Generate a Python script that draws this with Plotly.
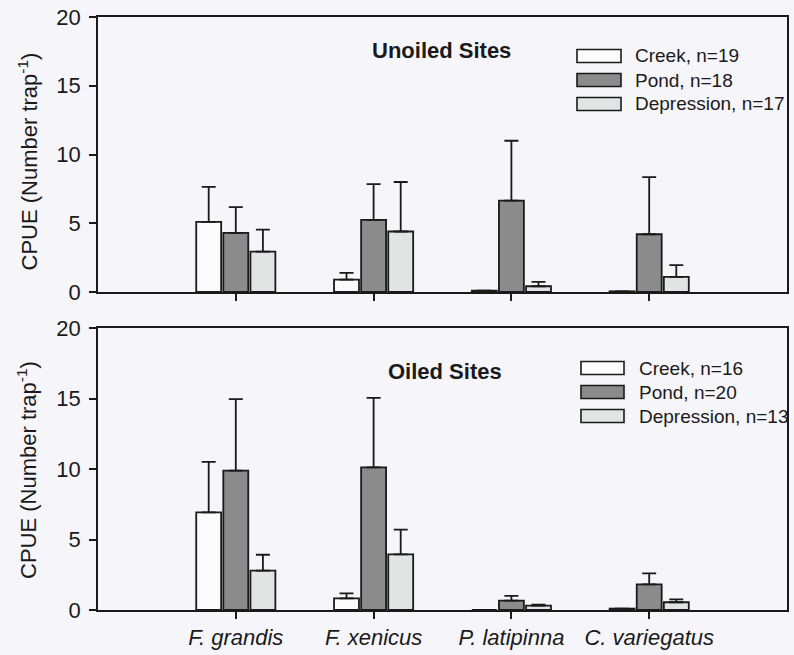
import plotly.graph_objects as go

# Species on the x axis (position 0 is left empty)
species = ["F. grandis", "F. xenicus", "P. latipinna", "C. variegatus"]
species_pos = [1, 2, 3, 4]
habitats = ["Creek", "Pond", "Depression"]

# Unoiled sites: mean CPUE and upper error (SE)
unoiled_n = [19, 18, 17]
unoiled_creek = [5.1, 0.9, 0.1, 0.05]
unoiled_creek_err = [2.55, 0.49, None, None]
unoiled_pond = [4.3, 5.25, 6.65, 4.2]
unoiled_pond_err = [1.88, 2.6, 4.35, 4.15]
unoiled_depr = [2.93, 4.4, 0.42, 1.1]
unoiled_depr_err = [1.6, 3.6, 0.31, 0.85]

# Oiled sites
oiled_n = [16, 20, 13]
oiled_creek = [6.93, 0.83, 0.0, 0.1]
oiled_creek_err = [3.57, 0.35, None, None]
oiled_pond = [9.88, 10.12, 0.67, 1.82]
oiled_pond_err = [5.08, 4.92, 0.33, 0.78]
oiled_depr = [2.79, 3.95, 0.31, 0.55]
oiled_depr_err = [1.13, 1.75, 0.07, 0.21]

y_ticks = [0, 5, 10, 15, 20]

BG = "#f5f5fa"
INK = "#1a1a1a"
FILLS = ["#fbfbfb", "#8b8b8b", "#e2e4e4"]
FONT = "Liberation Sans, Arial, sans-serif"

# page geometry (px)
W_PAGE, H_PAGE = 794, 655
L, R, T, B = 98, 7, 17, 45
PW = W_PAGE - L - R
PH = H_PAGE - T - B


def fx(px):
    return (px - L) / PW


def fy(py):
    return (H_PAGE - B - py) / PH


top_domain = [fy(292), 1.0]
bot_domain = [0.0, fy(328)]

fig = go.Figure()

panels = [
    ("x", "y", [unoiled_creek, unoiled_pond, unoiled_depr],
     [unoiled_creek_err, unoiled_pond_err, unoiled_depr_err]),
    ("x2", "y2", [oiled_creek, oiled_pond, oiled_depr],
     [oiled_creek_err, oiled_pond_err, oiled_depr_err]),
]

for xa, ya, vals, errs in panels:
    for k, name in enumerate(habitats):
        fig.add_trace(go.Bar(
            x=species_pos, y=vals[k], name=name, xaxis=xa, yaxis=ya,
            marker=dict(color=FILLS[k], line=dict(color=INK, width=1.8)),
            error_y=dict(type="data", array=errs[k], symmetric=False,
                         arrayminus=[0] * len(species_pos),
                         color=INK, thickness=1.8, width=7),
            showlegend=False,
        ))

axis_common = dict(
    showline=True, linecolor=INK, linewidth=1.6, mirror=True,
    showgrid=False, zeroline=False, automargin=False,
)

fig.update_layout(
    width=W_PAGE, height=H_PAGE,
    margin=dict(l=L, r=R, t=T, b=B, pad=0),
    paper_bgcolor=BG, plot_bgcolor=BG,
    barmode="group", bargap=0.41, bargroupgap=0.08,
    font=dict(family=FONT, color=INK, size=22),
    xaxis=dict(domain=[0, 1], anchor="y", range=[0, 5],
               tickvals=species_pos, showticklabels=False,
               ticks="outside", ticklen=7, tickwidth=1.6, tickcolor=INK,
               **axis_common),
    yaxis=dict(domain=top_domain, anchor="x", range=[0, 20],
               tickvals=y_ticks, ticks="outside", ticklen=7, tickwidth=1.6,
               tickcolor=INK, ticklabelstandoff=4,
               tickfont=dict(size=22), **axis_common),
    xaxis2=dict(domain=[0, 1], anchor="y2", range=[0, 5],
                tickvals=species_pos,
                ticktext=["<i>%s</i>" % s for s in species],
                ticks="outside", ticklen=7, tickwidth=1.6, tickcolor=INK,
                ticklabelstandoff=0, tickfont=dict(size=22),
                **axis_common),
    yaxis2=dict(domain=bot_domain, anchor="x2", range=[0, 20],
                tickvals=y_ticks, ticks="outside", ticklen=7, tickwidth=1.6,
                tickcolor=INK, ticklabelstandoff=4,
                tickfont=dict(size=22), **axis_common),
)

annotations = []
shapes = []

# y-axis titles and panel titles
for cy in [(17 + 292) / 2 + 7, (328 + 610) / 2 + 1]:
    annotations.append(dict(
        text="CPUE (Number trap<sup>-1</sup>)", textangle=-90,
        xref="paper", yref="paper", x=fx(27), y=fy(cy),
        xanchor="center", yanchor="middle", showarrow=False,
        font=dict(size=22)))

for title, cx, cy in [("Unoiled Sites", 441, 50), ("Oiled Sites", 445, 371)]:
    annotations.append(dict(
        text="<b>%s</b>" % title, xref="paper", yref="paper",
        x=fx(cx), y=fy(cy), xanchor="center", yanchor="middle",
        showarrow=False, font=dict(size=22)))

# legend blocks drawn per panel
legend_specs = [
    (unoiled_n, 577, 621, 633, [56, 80, 104]),
    (oiled_n, 581, 624, 637, [368, 392, 416]),
]
for ns, bx0, bx1, tx, rows in legend_specs:
    for k, name in enumerate(habitats):
        ry = rows[k]
        shapes.append(dict(
            type="rect", xref="paper", yref="paper",
            x0=fx(bx0), x1=fx(bx1), y0=fy(ry + 6.5), y1=fy(ry - 6.5),
            fillcolor=FILLS[k], line=dict(color=INK, width=1.6)))
        annotations.append(dict(
            text="%s, n=%d" % (name, ns[k]), xref="paper", yref="paper",
            x=fx(tx), y=fy(ry), xanchor="left", yanchor="middle",
            showarrow=False, font=dict(size=19)))

fig.update_layout(annotations=annotations, shapes=shapes)

fig.write_html("out.html")
